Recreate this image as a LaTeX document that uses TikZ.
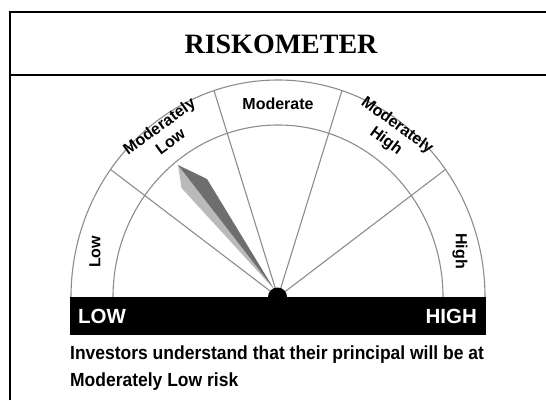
\documentclass[tikz,border=0pt]{standalone}
\usepackage{fontspec}
\setmainfont{Liberation Serif}
\setsansfont{Liberation Sans}
\definecolor{rimgray}{HTML}{8C8C8C}
\definecolor{needlelight}{HTML}{BABABA}
\definecolor{needledark}{HTML}{6E6E6E}
\tikzset{
  rim/.style={draw=rimgray,line width=1.1pt},
  zone/.style={font=\sffamily\bfseries\fontsize{16}{19}\selectfont,align=center,inner sep=0pt},
  bartext/.style={text=white,font=\sffamily\bfseries\fontsize{20.5}{22}\selectfont,inner sep=0pt},
  note/.style={font=\sffamily\bfseries\fontsize{19}{21}\selectfont,inner sep=0pt,anchor=west,xscale=0.92}
}
\begin{document}
\begin{tikzpicture}[x=1pt,y=1pt]
\useasboundingbox (0,0) rectangle (546,400);

% frame
\draw[line width=2pt] (10,0) -- (10,388) -- (560,388) (10,325) -- (560,325);
\node (title) at (281,356) {\fontsize{28}{30}\selectfont\bfseries RISKOMETER};

\scope[shift={(278,103)}] % dial
\draw[rim] (-207,0) arc[start angle=180,end angle=0,x radius=207,y radius=217];
\draw[rim] (-165,0) arc[start angle=180,end angle=0,x radius=165,y radius=172];
\foreach \a in {36,72,108,144}
  \draw[rim] (0,0) -- ({207*cos(\a)},{217*sin(\a)});

% needle
\fill[needlelight] (-100,132) -- (-96.5,109) -- (-4,8) -- cycle;
\fill[needledark] (-100,132) -- (-71,118) -- (-4,8) -- cycle;

% base
\fill (-208,0) rectangle (208,-38);
\fill (-0.5,0) circle (9.5);
\node[bartext,anchor=west] (low) at (-200,-19) {LOW};
\node[bartext,anchor=east] (high) at (199,-19) {HIGH};

\node[zone,rotate=90] (lowzone) at (-183,45) {Low};
\node[zone,rotate=36] (modlow) at ({202*0.955*cos(126)},{202*sin(126)}) {Moderately\\Low};
\node[zone] (moderate) at (0,193) {Moderate};
\node[zone,rotate=-36] (modhigh) at ({202*0.955*cos(54)},{202*sin(54)}) {Moderately\\High};
\node[zone,rotate=-90] (highzone) at (182,46) {High};
\endscope

\node[note] (line1) at (70,45) {Investors understand that their principal will be at};
\node[note] (line2) at (70,18) {Moderately Low risk};
\end{tikzpicture}
\end{document}
